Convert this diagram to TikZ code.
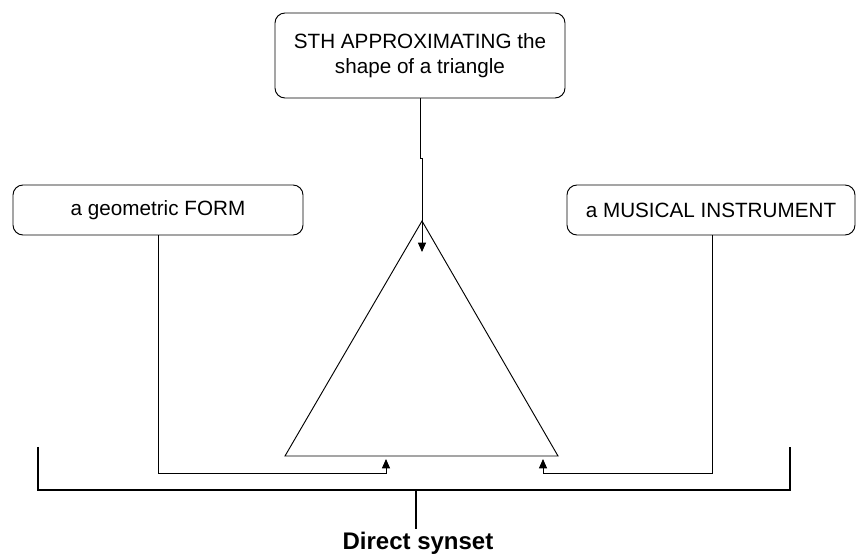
\documentclass[tikz,border=0pt]{standalone}
\usepackage{fontspec}
\setmainfont{Liberation Sans}
\usetikzlibrary{arrows.meta}
\usetikzlibrary{calc}

\tikzset{
    sensebox/.style={draw, rounded corners=7.5pt, line width=0.7pt, minimum height=#1, align=center, inner sep=0pt, font=\fontsize{15.5}{18.75}\selectfont},
    link/.style={line width=0.7pt, -{Triangle[length=7pt, width=6pt]}},
}

\begin{document}
\begin{tikzpicture}[x=0.75pt, y=-0.75pt]
    \useasboundingbox (0,0) rectangle (857,559);

    % the three readings
        \node[sensebox=63.75pt, minimum width=217.5pt] (approx) at (420, 55.5) {STH APPROXIMATING the\\shape of a triangle};
        \node[sensebox=37.5pt, minimum width=217.5pt] (form) at (158, 210) {a geometric FORM};
        \node[sensebox=37.5pt, minimum width=216pt] (instr) at (711, 210) {a MUSICAL INSTRUMENT};

    % the triangle
        \coordinate (apex) at (422, 221);
        \coordinate (bl) at (285, 456);
        \coordinate (br) at (558, 456);
        \draw[line width=0.7pt] (apex) -- (bl) -- (br) -- cycle;

    % connectors
        \coordinate (jog) at (420, 158);
        \coordinate (tipA) at (422, 252);
        \coordinate (tipB) at (386, 459);
        \coordinate (tipC) at (543, 459);
        \draw[link] (approx.south -| jog) -- (jog) -- ++(2, 0) -- (tipA);
        \draw[link] (form.south -| 158, 0) -- (158, 473) -- (386, 473) -- (tipB);
        \draw[link] (instr.south -| 712, 0) -- (712, 473) -- (543, 473) -- (tipC);

    % the bracket
        \draw[line width=2.2pt] (38, 447) -- (38, 490) -- (790, 490) -- (790, 447);
        \node[font=\fontsize{18}{22}\selectfont\bfseries, inner sep=0pt, anchor=base] (synset) at (418, 549) {Direct synset};
        \draw[line width=1.2pt] (416, 490) -- ($(synset.north -| 416, 0) + (0, -2)$);
\end{tikzpicture}
\end{document}
